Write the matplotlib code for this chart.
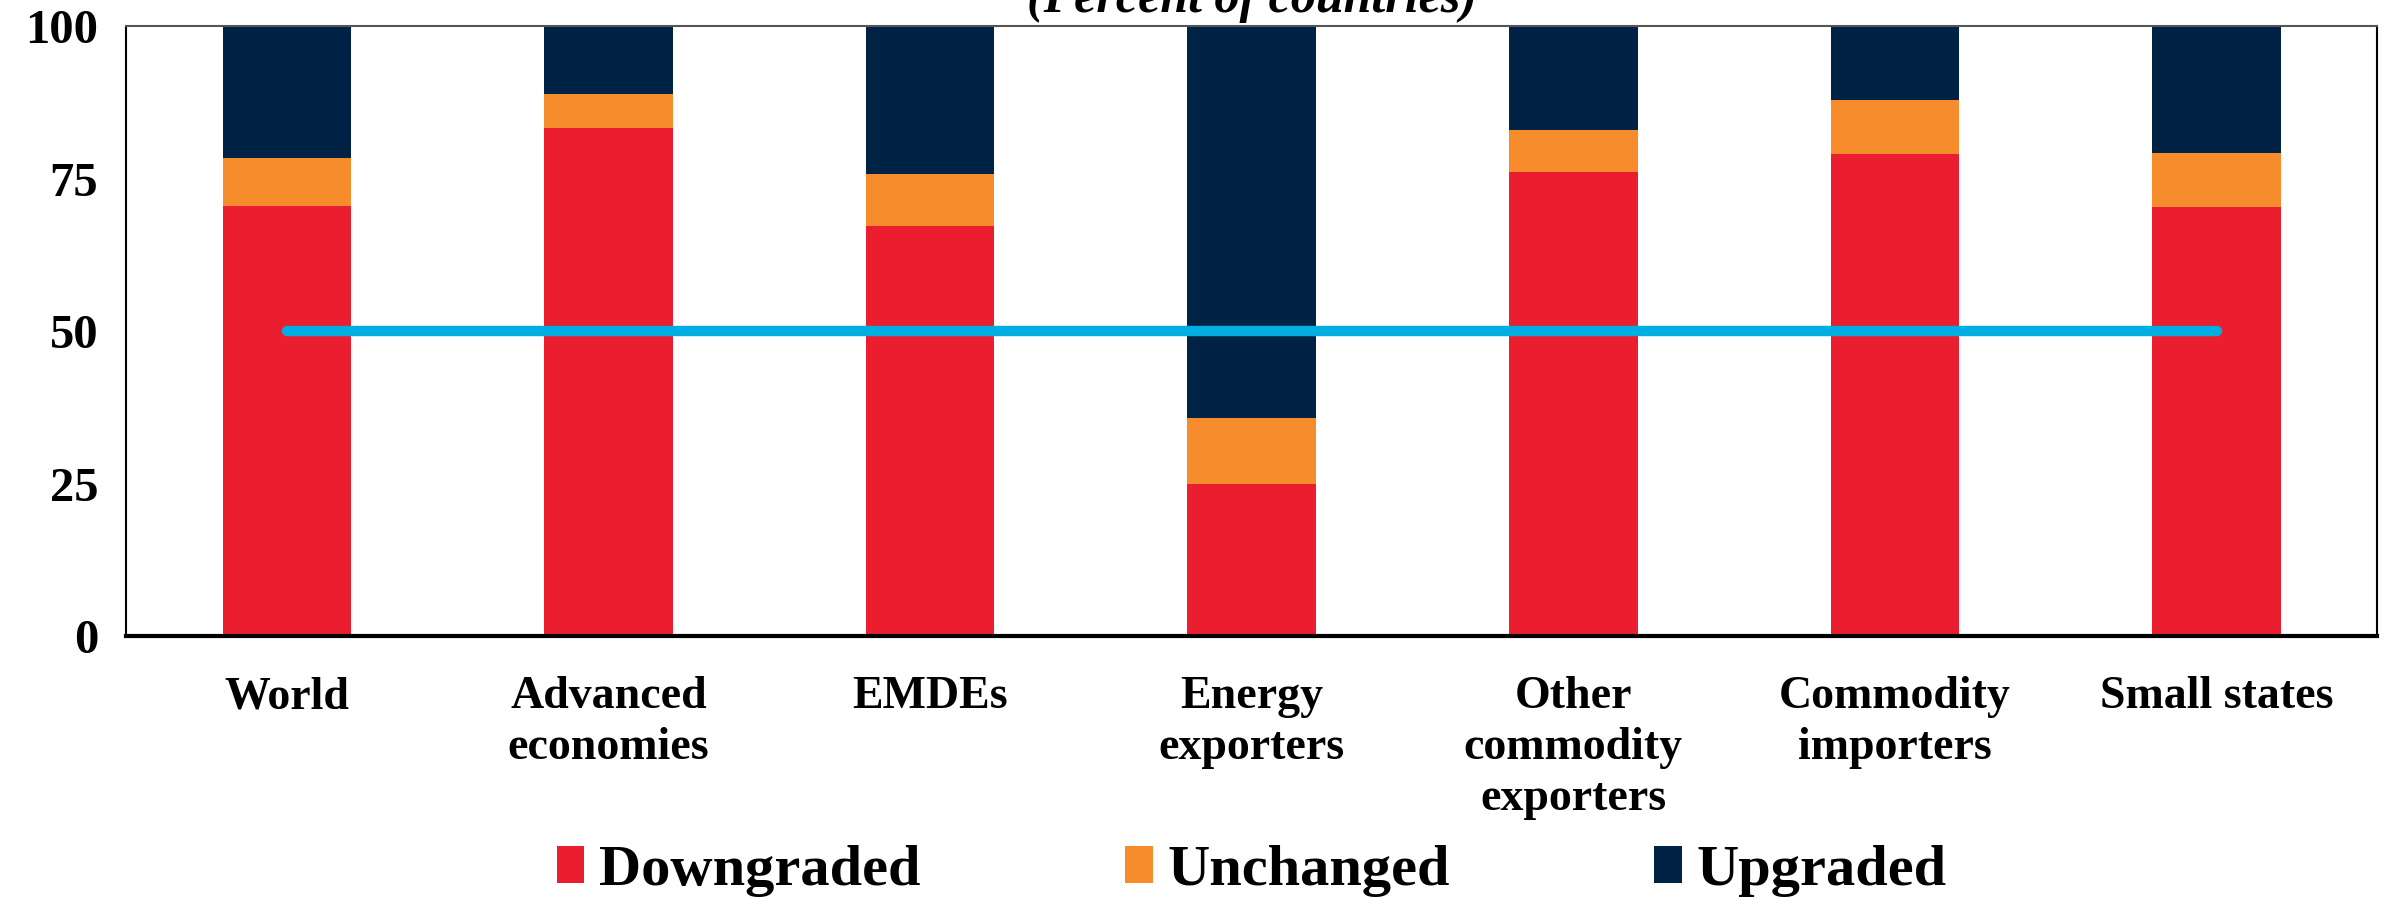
import numpy as np
import matplotlib
matplotlib.use("Agg")
import matplotlib.pyplot as plt

plt.rcParams['font.family'] = ['Liberation Serif', 'DejaVu Serif']
plt.rcParams['font.weight'] = 'bold'

categories = ['World', 'Advanced\neconomies', 'EMDEs', 'Energy\nexporters',
              'Other\ncommodity\nexporters', 'Commodity\nimporters', 'Small states']
downgraded = [70.5, 83.3, 67.3, 25.0, 76.0, 79.1, 70.3]
unchanged = [7.8, 5.6, 8.4, 10.7, 6.9, 8.7, 8.9]
upgraded = [21.7, 11.1, 24.3, 64.3, 17.1, 12.2, 20.8]
threshold = 50
yticks = [0, 25, 50, 75, 100]

c_down = '#EB1E2F'
c_unch = '#F68C2B'
c_up = '#002345'
c_line = '#00AEE2'

fig = plt.figure(figsize=(23.87, 8.99), dpi=100)
ax = fig.add_axes([0.0528, 0.2925, 0.9432, 0.6785])

x = np.arange(len(categories))
w = 0.4
down = np.array(downgraded)
unch = np.array(unchanged)
up = np.array(upgraded)
ax.bar(x, down, w, color=c_down, label='Downgraded', zorder=2)
ax.bar(x, unch, w, bottom=down, color=c_unch, label='Unchanged', zorder=2)
ax.bar(x, up, w, bottom=down + unch, color=c_up, label='Upgraded', zorder=2)

# 50 percent reference line across the group centres
ax.plot([x[0], x[-1]], [threshold, threshold], color=c_line, lw=7.5,
        solid_capstyle='round', zorder=3)

ax.set_xlim(-0.5, len(categories) - 0.5)
ax.set_ylim(0, 100)
ax.set_yticks(yticks)
ax.set_xticks(x)
ax.set_xticklabels(categories, fontsize=33, fontweight='bold', linespacing=1.27)
ax.tick_params(axis='y', length=0, pad=20, labelsize=35)
ax.tick_params(axis='x', length=0, pad=29)

for side in ['left', 'right']:
    ax.spines[side].set_color('black')
    ax.spines[side].set_linewidth(1.5)
ax.spines['top'].set_color('#555555')
ax.spines['top'].set_linewidth(1.5)
ax.spines['bottom'].set_color('black')
ax.spines['bottom'].set_linewidth(3)

fig.text(0.5245, 0.9867, '(Percent of countries)', ha='center', va='baseline',
         fontsize=36, fontweight='bold', style='italic')

fig.legend(loc='center', bbox_to_anchor=(0.5245, 0.031), ncol=3, frameon=False,
           handlelength=0.47, handleheight=0.6, handletextpad=0.26,
           columnspacing=3.5, prop={'size': 42, 'weight': 'bold'})

fig.savefig('out.png', dpi=100)
